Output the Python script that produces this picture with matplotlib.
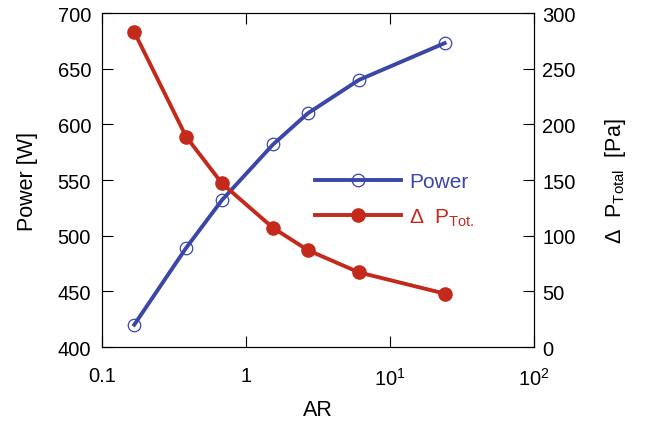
import matplotlib
matplotlib.use("Agg")
import matplotlib.pyplot as plt
from matplotlib.ticker import FixedLocator, FixedFormatter, NullLocator

plt.rcParams['font.family'] = ['Liberation Sans', 'DejaVu Sans']
plt.rcParams['mathtext.fontset'] = 'custom'
plt.rcParams['mathtext.rm'] = 'Liberation Sans'
plt.rcParams['mathtext.it'] = 'Liberation Sans'

# data
ar = [0.167, 0.383, 0.68, 1.54, 2.69, 6.1, 24.0]
power = [420, 489, 532, 582, 610, 640, 673]
dp_total = [283, 189, 147, 107, 87, 67, 48]

blue = "#3a46a8"
red = "#c42a1c"

fig = plt.figure(figsize=(6.47, 4.27), dpi=100)
ax = fig.add_axes([0.158, 0.185, 0.667, 0.782])
ax2 = ax.twinx()

l1, = ax.plot(ar, power, color=blue, lw=2.8, marker="o", ms=9,
              mfc="none", mec=blue, mew=0.9, label="Power")
l2, = ax2.plot(ar, dp_total, color=red, lw=2.8, marker="o", ms=9.5,
               mfc=red, mec=red, label=r"$\Delta$  P$_{\mathrm{Tot.}}$")

ax.set_xscale("log")
ax.set_xlim(0.1, 100)
ax.set_ylim(400, 700)
ax2.set_ylim(0, 300)

ax.xaxis.set_major_locator(FixedLocator([0.1, 1, 10, 100]))
ax.xaxis.set_major_formatter(FixedFormatter(["0.1", "1", r"$10^1$", r"$10^2$"]))
ax.xaxis.set_minor_locator(NullLocator())
ax.set_yticks([400, 450, 500, 550, 600, 650, 700])
ax2.set_yticks([0, 50, 100, 150, 200, 250, 300])

ax.tick_params(axis="x", which="both", direction="in", top=True, length=8,
               labelsize=14.5, pad=14)
ax.tick_params(axis="y", direction="in", length=8, labelsize=14.5, pad=8)
ax2.tick_params(axis="y", direction="in", length=8, labelsize=14.5, pad=6)

ax.set_xlabel("AR", fontsize=15.5, labelpad=8)
ax.set_ylabel("Power [W]", fontsize=15.5, labelpad=14)
ax2.set_ylabel(r"$\Delta$  P$_{\mathrm{Total}}$  [Pa]", fontsize=15.5, labelpad=20)

leg = ax.legend(handles=[l1, l2], loc="upper left",
                bbox_to_anchor=(0.45, 0.58), frameon=False, fontsize=15,
                handlelength=4.1, handletextpad=0.4, labelspacing=0.75)
for txt, c in zip(leg.get_texts(), [blue, red]):
    txt.set_color(c)

fig.savefig("out.png", dpi=100)
